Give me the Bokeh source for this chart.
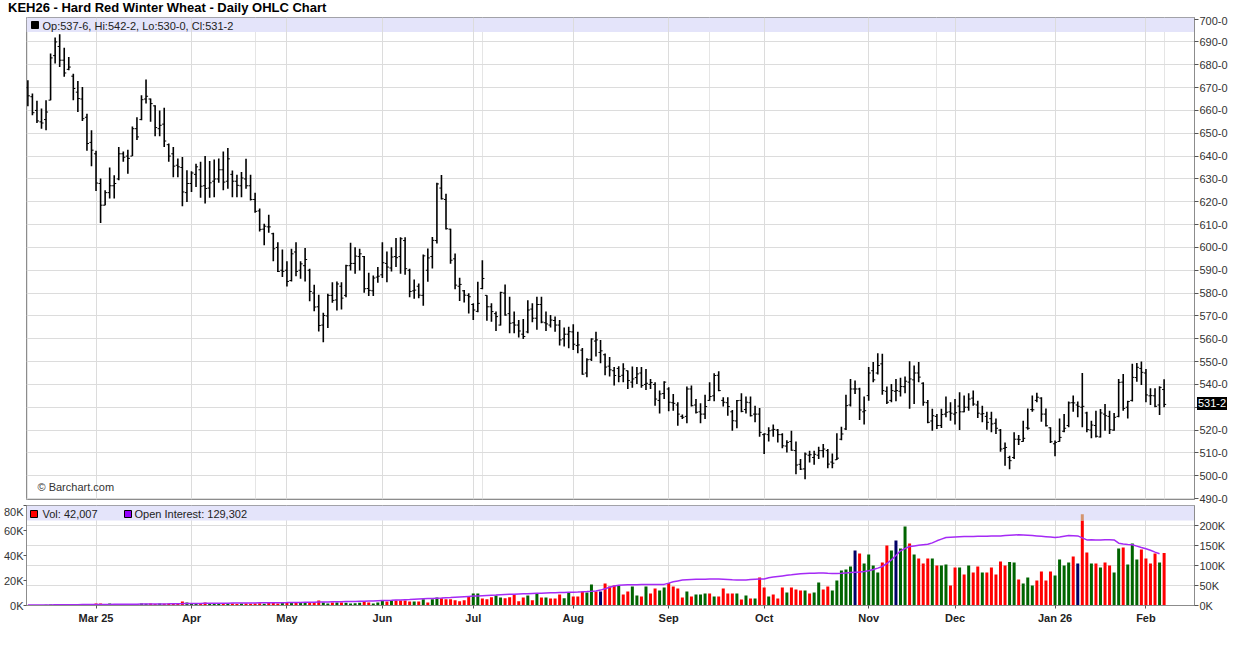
import numpy as np
import pandas as pd
from bokeh.plotting import figure
from bokeh.models import (ColumnDataSource, FixedTicker, LinearAxis, Range1d, Label,
                          BoxAnnotation, Div, Grid)
from bokeh.layouts import column
from bokeh.embed import file_html
from bokeh.resources import INLINE

# ---------------- data ----------------
TITLE = "KEH26 - Hard Red Winter Wheat - Daily OHLC Chart"
first_date, last_date = "2025-02-07", "2026-02-06"
holidays = ["2025-02-17", "2025-04-18", "2025-05-26", "2025-06-19", "2025-07-04",
            "2025-09-01", "2025-11-27", "2025-12-25", "2026-01-01", "2026-01-19"]
month_labels = ["Mar 25", "Apr", "May", "Jun", "Jul", "Aug", "Sep", "Oct", "Nov",
                "Dec", "Jan 26", "Feb"]

opens = [
    670.0, 666.0, 660.0, 655.0, 656.0, 664.5, 684.0, 688.0, 682.0, 678.0,
    675.0, 668.0, 665.0, 657.0, 646.0, 641.0, 628.0, 618.5, 624.0, 627.0,
    630.0, 641.0, 640.0, 640.0, 652.0, 656.0, 665.0, 665.0, 662.0, 652.0,
    654.0, 645.0, 641.0, 636.0, 635.0, 624.0, 628.0, 632.0, 634.0, 627.0,
    626.0, 629.0, 630.0, 634.0, 629.0, 632.0, 629.0, 627.0, 630.0, 627.0,
    621.0, 616.0, 608.0, 609.0, 606.0, 600.0, 590.0, 590.0, 585.5, 598.0,
    590.0, 592.0, 590.0, 580.0, 574.0, 566.0, 570.0, 579.0, 577.0, 583.0,
    579.0, 592.0, 593.0, 596.0, 596.0, 582.0, 581.0, 587.0, 588.0, 593.0,
    591.0, 596.0, 596.0, 603.0, 590.0, 581.0, 583.0, 579.0, 590.0, 596.0,
    603.0, 626.0, 621.0, 608.0, 595.0, 583.0, 581.0, 579.0, 575.0, 572.0,
    582.0, 579.0, 574.0, 571.0, 566.0, 580.0, 571.0, 567.0, 566.0, 562.0,
    563.0, 573.0, 569.0, 575.0, 567.0, 566.0, 568.0, 566.0, 560.0, 562.0,
    563.0, 557.0, 555.0, 545.0, 551.0, 559.0, 554.0, 553.0, 548.0, 546.0,
    547.0, 544.0, 546.0, 541.0, 543.0, 545.0, 540.0, 540.0, 540.0, 533.0,
    536.0, 538.0, 532.0, 531.0, 526.0, 526.0, 538.0, 531.0, 528.0, 527.0,
    533.0, 535.0, 544.0, 533.0, 532.0, 528.0, 524.0, 533.0, 529.0, 532.0,
    527.0, 527.0, 518.0, 518.0, 520.0, 520.0, 518.0, 513.0, 515.0, 511.0,
    505.0, 503.0, 509.0, 508.0, 509.0, 511.0, 511.0, 506.0, 507.0, 516.0,
    520.5, 531.0, 538.0, 538.0, 528.0, 535.1, 546.0, 545.0, 549.0, 537.0,
    533.0, 537.0, 537.0, 539.0, 541.0, 542.0, 545.0, 540.5, 532.0, 524.0,
    526.0, 522.0, 527.0, 528.0, 527.0, 530.5, 528.0, 530.0, 534.0, 531.0,
    527.0, 526.0, 525.0, 523.0, 520.0, 512.0, 508.0, 508.0, 516.0, 515.0,
    521.0, 529.0, 533.0, 534.0, 527.0, 521.0, 514.0, 515.0, 519.5, 522.0,
    532.0, 531.0, 530.0, 527.5, 520.0, 522.0, 517.0, 527.0, 526.0, 520.0,
    526.0, 541.0, 530.0, 533.0, 543.0, 547.0, 545.0, 535.0, 535.0, 531.0,
    537.75,
]
highs = [
    673.2, 667.4, 664.2, 660.8, 664.5, 684.9, 691.9, 693.4, 687.5, 683.4,
    676.1, 672.9, 670.3, 658.6, 651.3, 642.3, 630.2, 625.0, 635.0, 631.6,
    644.0, 642.0, 642.8, 653.0, 657.0, 666.6, 673.5, 665.2, 662.3, 660.0,
    661.2, 645.5, 644.0, 639.0, 639.6, 633.8, 633.4, 636.7, 637.5, 640.0,
    637.9, 638.5, 639.0, 642.0, 643.5, 633.7, 631.8, 633.0, 638.8, 631.8,
    624.0, 617.0, 610.4, 614.3, 606.4, 602.3, 599.1, 593.9, 599.4, 602.3,
    593.9, 599.7, 590.7, 583.6, 579.3, 571.4, 579.7, 584.8, 585.1, 584.8,
    592.4, 602.0, 600.1, 599.4, 596.2, 588.9, 587.7, 591.4, 602.3, 598.2,
    600.1, 604.1, 604.5, 604.5, 590.7, 586.0, 584.2, 596.9, 599.5, 604.6,
    628.3, 631.7, 623.5, 608.2, 597.3, 586.7, 581.3, 579.9, 575.5, 585.0,
    594.4, 579.1, 575.5, 571.9, 580.6, 583.8, 578.4, 571.9, 568.2, 568.7,
    576.9, 575.5, 578.4, 578.4, 571.9, 570.4, 569.7, 568.2, 564.9, 565.3,
    566.3, 563.1, 555.9, 551.5, 560.2, 563.1, 559.5, 553.5, 552.0, 547.6,
    548.0, 549.3, 546.1, 547.8, 547.6, 547.6, 546.8, 542.4, 541.0, 537.3,
    541.4, 538.8, 535.8, 532.2, 526.8, 539.1, 539.5, 533.6, 531.7, 535.5,
    541.0, 544.9, 545.8, 534.4, 534.4, 528.8, 533.2, 536.1, 534.7, 534.7,
    530.7, 529.7, 518.6, 521.2, 522.4, 520.5, 518.6, 515.6, 519.7, 515.0,
    507.3, 510.2, 511.0, 511.0, 512.7, 513.9, 511.7, 509.8, 518.6, 521.5,
    535.5, 542.4, 541.7, 538.5, 534.7, 547.6, 549.8, 553.7, 553.4, 539.1,
    540.2, 542.4, 542.9, 543.5, 550.2, 548.3, 549.8, 541.0, 533.2, 529.3,
    527.0, 529.3, 534.7, 532.2, 533.6, 536.6, 535.1, 536.1, 537.3, 532.9,
    530.7, 528.0, 528.0, 525.1, 520.5, 514.6, 508.8, 519.0, 517.8, 524.1,
    529.5, 535.1, 536.3, 534.4, 529.5, 521.2, 515.4, 525.1, 527.0, 532.5,
    535.1, 532.5, 545.0, 528.0, 524.1, 528.5, 529.2, 531.4, 528.5, 527.5,
    542.4, 544.6, 532.9, 549.0, 549.4, 550.0, 546.8, 538.3, 538.3, 539.2,
    542.25,
]
lows = [
    661.8, 657.9, 654.5, 652.0, 651.3, 664.5, 680.5, 679.0, 674.7, 677.6,
    664.5, 659.3, 655.4, 642.3, 635.6, 624.7, 610.7, 618.5, 621.4, 621.4,
    629.4, 637.5, 632.3, 640.0, 647.0, 655.7, 663.0, 655.0, 648.7, 648.7,
    644.0, 637.5, 630.7, 630.7, 618.0, 619.9, 624.3, 626.5, 621.8, 619.2,
    621.8, 622.0, 628.3, 625.0, 625.7, 622.0, 622.0, 622.0, 625.7, 620.6,
    615.2, 607.0, 600.9, 606.4, 593.9, 589.2, 587.0, 582.9, 585.1, 587.4,
    586.3, 585.1, 576.4, 572.0, 563.2, 558.5, 564.7, 575.8, 572.4, 572.8,
    578.2, 589.9, 588.5, 589.9, 580.1, 578.7, 578.7, 584.5, 586.6, 584.8,
    589.5, 591.4, 588.5, 588.0, 578.2, 577.5, 577.7, 574.5, 585.0, 590.8,
    601.7, 621.0, 607.8, 592.9, 581.7, 576.5, 575.9, 571.1, 568.2, 571.6,
    581.7, 567.9, 567.5, 563.4, 565.8, 570.1, 562.4, 562.4, 560.5, 559.9,
    562.4, 567.2, 563.9, 566.8, 563.4, 564.9, 563.1, 557.0, 556.6, 555.8,
    555.1, 553.7, 544.2, 543.1, 550.3, 552.2, 549.3, 544.0, 543.5, 539.5,
    541.0, 541.0, 538.0, 538.5, 540.2, 538.5, 537.6, 538.0, 530.7, 527.3,
    533.6, 528.2, 528.5, 521.9, 524.9, 523.0, 530.3, 527.3, 523.0, 524.9,
    532.9, 532.6, 537.0, 530.3, 526.3, 519.7, 520.8, 527.8, 527.3, 525.9,
    523.4, 517.1, 509.5, 515.0, 517.1, 514.6, 512.1, 510.2, 510.9, 500.7,
    502.5, 498.5, 505.8, 504.8, 507.3, 508.0, 503.3, 503.3, 506.9, 515.6,
    520.0, 530.3, 535.8, 524.4, 522.4, 532.9, 541.0, 544.3, 535.5, 531.4,
    532.2, 532.6, 534.7, 536.1, 529.3, 531.4, 541.0, 530.7, 523.0, 519.7,
    520.5, 520.9, 525.6, 524.1, 522.4, 520.0, 527.8, 528.5, 530.7, 525.3,
    523.4, 520.2, 519.0, 518.3, 510.5, 504.4, 502.9, 507.3, 513.5, 514.9,
    520.2, 528.0, 532.2, 523.7, 521.6, 514.3, 508.5, 514.9, 519.0, 521.2,
    528.0, 525.6, 521.2, 519.0, 516.4, 516.8, 516.8, 519.7, 518.3, 519.7,
    525.6, 528.5, 525.1, 532.5, 541.2, 539.8, 532.2, 531.0, 530.0, 526.6,
    530.0,
]
closes = [
    666.4, 659.0, 655.4, 654.5, 659.3, 683.0, 690.0, 682.0, 676.4, 679.0,
    669.6, 665.2, 656.4, 645.5, 642.6, 628.2, 618.5, 624.0, 627.0, 628.0,
    641.0, 639.5, 639.0, 652.0, 648.4, 664.7, 666.2, 663.0, 652.5, 653.5,
    646.6, 640.0, 635.6, 635.3, 624.3, 628.0, 632.6, 635.3, 626.8, 625.8,
    628.3, 630.0, 634.0, 628.6, 638.8, 629.0, 627.2, 630.4, 627.0, 621.0,
    615.8, 607.9, 609.3, 609.0, 599.4, 589.5, 589.5, 585.1, 597.2, 589.5,
    592.8, 594.7, 580.7, 573.9, 565.8, 570.2, 579.0, 576.8, 584.0, 577.8,
    592.0, 593.0, 596.2, 597.2, 581.9, 581.2, 586.6, 587.4, 593.3, 591.4,
    595.8, 595.5, 603.8, 590.7, 580.7, 581.3, 579.1, 596.3, 595.4, 603.1,
    627.8, 621.3, 608.2, 594.4, 583.5, 583.8, 579.1, 578.4, 572.6, 575.5,
    586.4, 574.0, 571.9, 569.7, 580.3, 570.4, 566.8, 566.0, 563.4, 561.0,
    572.6, 569.0, 575.0, 567.3, 566.5, 568.2, 566.0, 559.5, 562.0, 563.1,
    557.6, 557.3, 544.5, 550.8, 559.9, 559.5, 554.7, 547.6, 546.4, 543.9,
    543.5, 546.8, 541.7, 542.4, 544.6, 539.5, 540.5, 540.8, 533.6, 535.8,
    541.0, 532.2, 531.7, 527.0, 525.6, 538.0, 530.7, 527.8, 527.0, 530.3,
    534.7, 543.9, 537.3, 532.2, 530.3, 524.1, 532.9, 528.2, 532.2, 526.3,
    527.0, 519.0, 518.3, 519.7, 520.3, 518.0, 513.1, 514.6, 511.2, 504.7,
    502.9, 509.5, 509.2, 509.4, 511.0, 511.7, 505.1, 505.5, 507.7, 518.3,
    530.7, 538.0, 538.0, 528.8, 528.5, 545.0, 542.0, 548.3, 537.3, 532.2,
    537.3, 537.3, 539.1, 541.4, 542.4, 545.0, 543.2, 532.2, 523.4, 526.3,
    522.0, 526.8, 527.8, 527.4, 527.6, 528.0, 530.0, 533.6, 531.4, 527.4,
    527.2, 523.4, 522.7, 520.8, 511.7, 512.4, 506.6, 516.0, 515.8, 516.4,
    520.8, 528.9, 534.4, 527.0, 521.9, 514.9, 514.6, 516.8, 520.8, 531.9,
    531.9, 530.4, 530.4, 520.2, 522.2, 517.3, 527.5, 526.3, 520.2, 525.6,
    540.9, 529.5, 532.5, 543.1, 547.5, 545.3, 535.4, 535.1, 530.4, 538.7,
    531.25,
]
# daily volume, thousands of contracts
volume_k = [
    0.3, 0.4, 0.5, 0.3, 0.6, 0.9, 0.7, 0.5, 0.6, 0.4,
    0.8, 0.6, 0.7, 0.9, 1.1, 1.6, 1.6, 1.0, 1.6, 1.2,
    0.9, 1.1, 1.3, 1.0, 1.2, 1.6, 1.4, 1.6, 1.3, 1.6,
    1.5, 1.6, 1.2, 1.4, 3.2, 2.4, 1.6, 1.4, 1.2, 2.4,
    1.6, 1.4, 1.6, 1.3, 1.5, 1.6, 1.2, 1.7, 1.6, 1.4,
    1.6, 1.8, 1.5, 2.0, 2.1, 1.6, 2.4, 2.4, 2.0, 2.4,
    2.1, 2.4, 2.2, 2.4, 4.0, 2.4, 1.6, 2.4, 2.4, 2.4,
    2.2, 1.6, 1.8, 2.2, 3.2, 2.4, 1.6, 2.4, 4.0, 3.2,
    4.0, 4.0, 4.0, 4.0, 3.2, 3.2, 3.2, 5.0, 2.4, 5.0,
    6.4, 5.9, 5.0, 5.0, 4.3, 3.5, 4.3, 7.2, 9.6, 9.6,
    5.6, 5.0, 6.7, 8.0, 6.4, 5.9, 6.7, 8.8, 3.5, 6.4,
    8.0, 4.3, 9.6, 6.4, 6.4, 5.6, 5.6, 8.8, 5.9, 10.4,
    7.2, 7.2, 11.2, 10.4, 16.8, 11.2, 11.2, 17.6, 15.2, 16.0,
    16.0, 8.8, 11.2, 15.2, 8.0, 7.2, 15.2, 9.6, 13.6, 12.0,
    14.4, 18.1, 15.2, 13.6, 6.4, 11.2, 7.2, 8.8, 8.8, 9.6,
    9.6, 7.2, 7.2, 13.6, 9.6, 9.6, 9.6, 4.8, 8.0, 5.6,
    5.6, 22.4, 14.4, 7.2, 8.8, 5.6, 14.4, 10.4, 14.4, 12.8,
    12.0, 12.0, 9.6, 10.4, 18.4, 12.8, 15.2, 12.0, 20.0, 28.0,
    28.8, 31.2, 44.0, 41.6, 33.6, 40.8, 32.0, 26.4, 34.4, 48.0,
    44.0, 52.0, 45.6, 63.2, 49.6, 40.8, 37.6, 33.6, 37.6, 37.6,
    32.0, 32.0, 32.8, 16.0, 30.4, 30.4, 24.8, 32.0, 26.4, 31.2,
    26.4, 26.4, 30.4, 24.8, 35.2, 32.0, 34.9, 34.4, 20.8, 17.6,
    22.4, 16.0, 20.0, 27.2, 20.0, 27.2, 24.0, 36.8, 32.0, 34.4,
    39.2, 33.6, 68.0, 42.4, 33.6, 33.6, 30.4, 34.4, 32.0, 26.4,
    45.6, 46.4, 32.8, 49.6, 36.8, 44.8, 37.6, 33.6, 41.6, 34.4,
    42.007,
]
# bar colour codes for the later bars (g up, r down, n unchanged)
vol_dir = ("rrrgrgrggr" "rrrrrrggrr" "rggrrrrrgr" "grgrrrggrr" "rggrnrrrgr"
           "rggrgrrggr" "rrrgrgggrg" "rrrrgrgrgr" "rgrrrgrrrg" "rggrrggggg"
           "nrggggrrgn" "ggrgrrrgrg" "grrgrgrrgr" "rrrrggrggg" "rrrrggggrn"
           "rrgrgrrggr" "ggg" "rrrrgr")
spike_idx = [232]
spike_top_k = [73.0]
# open interest, thousands of contracts
oi_k = [
    1.0, 1.1, 1.2, 1.3, 1.4, 1.5, 1.6, 1.7, 1.8, 1.9, 2.0, 2.1, 2.2, 2.3, 2.4,
    2.5, 2.6, 2.7, 2.8, 2.9, 3.0, 3.1, 3.2, 3.3, 3.4, 3.5, 3.6, 3.7, 3.8, 3.9,
    4.0, 4.1, 4.3, 4.5, 4.7, 5.0,
    5.1, 5.2, 5.3, 5.4, 5.5, 5.6, 5.7, 5.8, 5.9, 6.0, 6.1, 6.2, 6.3, 6.4, 6.5,
    6.6, 6.7, 6.8, 6.9, 7.0, 7.1,
    7.2, 7.4, 7.6, 7.8, 8.0, 8.1, 8.3, 8.5, 8.7, 8.9, 9.1, 9.3, 9.5, 9.8, 10.0,
    10.3, 10.6, 10.9, 11.2, 11.5, 11.9,
    12.3, 12.7, 13.1, 13.6, 14.0, 14.5, 15.0, 15.6, 16.2, 16.8, 17.3, 17.8, 18.3,
    18.8, 19.4, 20.0, 20.7, 21.4, 22.1, 22.8,
    23.5, 24.0, 24.6, 25.2, 25.8, 26.3, 26.9, 27.4, 27.9, 28.4, 28.8, 29.2, 29.6,
    30.0, 30.4, 30.8, 31.2, 31.6, 32.0, 32.4, 32.7, 33.0,
    33.3, 33.7, 34.2, 34.8, 35.5, 36.5, 38.5, 42.0, 45.5, 48.5, 50.5, 51.2, 51.6,
    51.9, 52.1, 52.2, 52.3, 52.4, 52.5, 52.6, 52.8,
    56.0, 59.5, 61.5, 63.5, 64.5, 65.0, 65.4, 65.6, 65.8, 66.0, 66.1, 66.0, 65.6,
    65.0, 64.3, 63.7, 63.5, 64.0, 65.0, 65.5, 66.0, 66.5,
    69.5, 71.0, 72.5, 74.0, 75.5, 76.7, 78.0, 79.3, 80.0, 80.5, 80.8, 81.2, 81.0,
    80.5, 80.2, 80.0, 80.5, 81.5, 82.5, 83.3, 84.0, 85.0,
    86.7, 90.0, 93.5, 97.5, 105.0, 114.0, 125.0, 136.7, 142.5, 147.5, 149.0, 150.5,
    152.0, 153.0, 156.5, 161.7, 166.0, 170.0, 170.8, 171.3, 171.8, 172.2,
    172.5, 172.8, 173.0, 173.2, 173.4, 173.6, 173.8, 174.0, 174.8, 175.6, 176.2,
    176.7, 176.3, 175.8, 175.0, 174.0, 173.0, 172.0, 171.0, 170.0, 171.5, 173.3,
    175.0, 174.6, 174.0, 169.0, 164.0, 164.2, 164.0, 163.8, 164.2, 164.4, 164.0,
    155.8, 154.0, 152.8, 151.7, 148.5, 145.0, 141.7, 138.0, 133.5, 129.3,
]
last_quote = "Op:537-6, Hi:542-2, Lo:530-0, Cl:531-2"
last_close_label = "531-2"
vol_label = "Vol: 42,007"
oi_label = "Open Interest: 129,302"
price_ticks = list(range(490, 701, 10))
vol_ticks_k = [0, 20, 40, 60, 80]
oi_ticks_k = [0, 50, 100, 150, 200]

# ---------------- styling ----------------
FONT = "Liberation Sans"
GRID = "#dcdcdc"
FRAME = "#8c8c8c"
BAND = "#e4e4fa"
UP, DOWN, FLAT = "#006400", "#ff0000", "#000066"
OI_COLOR = "#a52af5"

N = len(closes)
x = np.arange(N)
dates = pd.bdate_range(first_date, last_date, freq="C", holidays=holidays)
m = min(N, len(dates))
month_idx = [i for i in range(1, m) if dates[i].month != dates[i - 1].month]
month_idx = month_idx[:len(month_labels)]
month_over = {int(i): lab for i, lab in zip(month_idx, month_labels)}

TITLE_H = 16
LEFT_B = 25
FW, PH, VH = 1168, 482, 100
PB_TOP, PB_BOT = 1, 6
X0 = -0.3
X1 = X0 + FW / 4.545
Y0, Y1 = 489.6, 700.7
xs = FW / (X1 - X0)
ys = PH / (Y1 - Y0)

def style_axis(ax, bold=False):
    ax.axis_line_color = FRAME
    ax.major_tick_line_color = "#555555"
    ax.minor_tick_line_color = None
    ax.major_tick_in = 0
    ax.major_tick_out = 4
    ax.major_label_standoff = 1
    ax.major_label_text_font = FONT
    ax.major_label_text_font_size = "11px"
    ax.major_label_text_color = "#333333"
    if bold:
        ax.major_label_text_font_style = "bold"

# ---------------- price panel ----------------
p = figure(frame_width=FW, frame_height=PH, x_range=Range1d(X0, X1),
           y_range=Range1d(Y0, Y1), y_axis_location="right", x_axis_location=None,
           output_backend="svg", toolbar_location=None, min_border_left=LEFT_B,
           min_border_top=PB_TOP, min_border_bottom=PB_BOT, min_border_right=0,
           outline_line_color=FRAME, background_fill_color="white",
           border_fill_color="white")
p.add_layout(BoxAnnotation(top=Y1, bottom=Y1 - 14.5 / ys, fill_color=BAND, fill_alpha=1,
                           line_alpha=0, level="underlay"))
p.add_layout(Grid(dimension=0, ticker=FixedTicker(ticks=month_idx), grid_line_color=GRID))
p.ygrid.ticker = FixedTicker(ticks=price_ticks)
p.ygrid.grid_line_color = GRID
ya = p.yaxis[0]
ya.ticker = FixedTicker(ticks=price_ticks)
overrides = {t: f"{t}-0" for t in price_ticks}
overrides[530] = ""
ya.major_label_overrides = overrides
style_axis(ya)

src = ColumnDataSource(dict(x=x, o=opens, h=highs, l=lows, c=closes,
                            xl=x - 0.45, xr=x + 0.45))
p.segment(x0="x", y0="l", x1="x", y1="h", source=src, line_color="black", line_width=1.6)
p.segment(x0="xl", y0="o", x1="x", y1="o", source=src, line_color="black", line_width=1)
p.segment(x0="x", y0="c", x1="xr", y1="c", source=src, line_color="black", line_width=1)

p.scatter(x=[X0 + 8.5 / xs], y=[Y1 - 7.5 / ys], marker="square", size=7,
          fill_color="black", line_color="black")
p.add_layout(Label(x=X0, y=Y1, x_offset=16, y_offset=-8, text=last_quote,
                   text_baseline="middle", text_font=FONT, text_font_size="11px",
                   text_color="#222222"))
p.add_layout(Label(x=X0, y=Y0, x_offset=11, y_offset=13, text="\u00a9 Barchart.com",
                   text_baseline="middle", text_font=FONT, text_font_size="11px",
                   text_color="#333333"))

# last-price marker beside the price axis (outside the frame, so drawn as page HTML)
top_px = TITLE_H + PB_TOP + (Y1 - closes[-1]) * ys - 6.5
left_px = LEFT_B + FW + 4
marker_html = (f'<span style="position:fixed;left:{left_px:.0f}px;top:{top_px:.1f}px;'
               f'background:#000;color:#fff;font-family:\'{FONT}\';font-size:11px;'
               f'line-height:13px;font-weight:normal;padding:0 1px;z-index:1000">'
               f'{last_close_label}</span>')

# ---------------- volume panel ----------------
vmax = vol_ticks_k[-1] * 1000
v = figure(frame_width=FW, frame_height=VH, x_range=p.x_range, y_range=Range1d(0, vmax),
           output_backend="svg", toolbar_location=None, min_border_left=LEFT_B,
           min_border_top=0, min_border_right=0, outline_line_color=FRAME,
           background_fill_color="white", border_fill_color="white")
v.extra_y_ranges = {"oi": Range1d(0, 250000)}
vys = VH / vmax
v.add_layout(BoxAnnotation(top=vmax, bottom=vmax - 15 / vys, fill_color=BAND, fill_alpha=1,
                           line_alpha=0, level="underlay"))
v.ygrid.grid_line_color = None
v.add_layout(Grid(dimension=1, y_range_name="oi",
                  ticker=FixedTicker(ticks=[t * 1000 for t in oi_ticks_k]),
                  grid_line_color=GRID))
v.xgrid.grid_line_color = GRID

la = v.yaxis[0]
la.ticker = FixedTicker(ticks=[t * 1000 for t in vol_ticks_k])
la.major_label_overrides = {t * 1000: f"{t}K" for t in vol_ticks_k}
style_axis(la)
la.major_tick_out = 3
la.major_label_standoff = 0

ra = LinearAxis(y_range_name="oi", ticker=FixedTicker(ticks=[t * 1000 for t in oi_ticks_k]),
                major_label_overrides={t * 1000: f"{t}K" for t in oi_ticks_k})
style_axis(ra)
v.add_layout(ra, "right")

xa = v.xaxis[0]
xa.ticker = FixedTicker(ticks=month_idx)
xa.major_label_overrides = month_over
style_axis(xa, bold=True)
xa.major_tick_out = 3
xa.major_label_standoff = 3
xa.major_label_text_color = "#222222"

early = ["g" if i == 0 or closes[i] >= closes[i - 1] else "r" for i in range(N - len(vol_dir))]
dirs = early + list(vol_dir)
cmap = {"g": UP, "r": DOWN, "n": FLAT}
vsrc = ColumnDataSource(dict(x=x, vol=np.array(volume_k) * 1000,
                             col=[cmap[d] for d in dirs[:N]]))
v.vbar(x="x", top="vol", width=0.66, fill_color="col", line_color=None, source=vsrc)
v.vbar(x=spike_idx, bottom=[volume_k[i] * 1000 for i in spike_idx],
       top=[t * 1000 for t in spike_top_k], width=0.66, fill_color="#d4956e", line_color=None)
v.line(x=np.arange(len(oi_k)), y=np.array(oi_k) * 1000, y_range_name="oi",
       line_color=OI_COLOR, line_width=1.5)

v.scatter(x=[X0 + 7.5 / xs], y=[vmax - 8.5 / vys], marker="square", size=7,
          fill_color=DOWN, line_color="black", line_width=1)
v.add_layout(Label(x=X0, y=vmax, x_offset=16, y_offset=-8.5, text=vol_label,
                   text_baseline="middle", text_font=FONT, text_font_size="11px",
                   text_color="#222222"))
v.scatter(x=[X0 + 101.5 / xs], y=[vmax - 8.5 / vys], marker="square", size=7,
          fill_color="#9400ff", line_color="black", line_width=1)
v.add_layout(Label(x=X0, y=vmax, x_offset=108, y_offset=-8.5, text=oi_label,
                   text_baseline="middle", text_font=FONT, text_font_size="11px",
                   text_color="#222222"))

title = Div(text=TITLE + marker_html, width=420, height=TITLE_H, margin=(0, 0, 0, 0),
            styles={"font-family": FONT, "font-size": "13px", "font-weight": "bold",
                    "line-height": "13px", "color": "#000000", "white-space": "nowrap",
                    "padding-left": "8px", "padding-top": "1px", "overflow": "visible",
                    "z-index": "1000"})

layout = column(title, p, v, spacing=0)
open("out.html", "w").write(file_html(layout, INLINE, title=TITLE))
